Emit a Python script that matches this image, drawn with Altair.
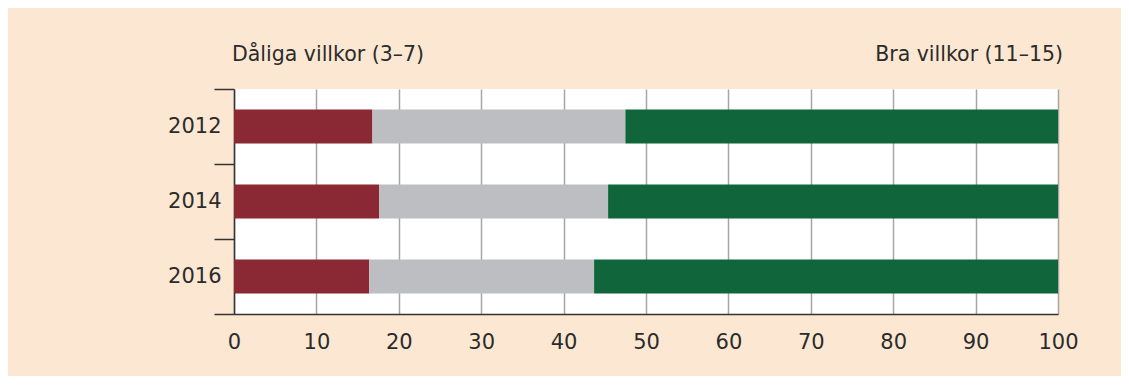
import altair as alt
import pandas as pd

years = ["2012", "2014", "2016"]
categories = ["Dåliga villkor (3–7)", "Mellan (8–10)", "Bra villkor (11–15)"]
bad = [16.8, 17.6, 16.4]
mid = [30.7, 27.8, 27.3]
good = [52.5, 54.6, 56.3]
colors = ["#8A2834", "#BDBEC1", "#10663A"]

rows = []
for i, y in enumerate(years):
    for j, (cat, vals) in enumerate(zip(categories, [bad, mid, good])):
        rows.append({"year": y, "cat": cat, "value": vals[i], "order": j})
df = pd.DataFrame(rows)

FONT = "DejaVu Sans"
W, H = 824, 225

bars = alt.Chart(df).mark_bar(size=34).encode(
    x=alt.X("value:Q", stack="zero",
            scale=alt.Scale(domain=[0, 100], nice=False, zero=True),
            axis=alt.Axis(values=list(range(0, 101, 10)), title=None, grid=True,
                          gridColor="#A6A6A6", gridWidth=1.5, ticks=False,
                          domain=True, domainColor="#333333", domainWidth=1.5,
                          labelFont=FONT, labelFontSize=21, labelColor="#2b2b2b",
                          labelFlush=False, labelBound=False, labelOverlap=False,
                          labelPadding=17)),
    y=alt.Y("year:N", sort=years,
            scale=alt.Scale(paddingInner=0, paddingOuter=0),
            axis=alt.Axis(title=None, tickBand="extent", tickSize=20, tickColor="#333333",
                          tickWidth=1.5, domainColor="#333333", domainWidth=1.5,
                          labelFont=FONT, labelFontSize=21, labelColor="#2b2b2b",
                          labelPadding=-7, grid=False)),
    color=alt.Color("cat:N", sort=categories,
                    scale=alt.Scale(domain=categories, range=colors), legend=None),
    order=alt.Order("order:Q"),
)

left_title = alt.Chart(pd.DataFrame({"t": [categories[0]]})).mark_text(
    align="left", baseline="alphabetic", font=FONT, fontSize=20.5, color="#2b2b2b"
).encode(text="t:N", x=alt.value(-2), y=alt.value(-28))

right_title = alt.Chart(pd.DataFrame({"t": [categories[2]]})).mark_text(
    align="right", baseline="alphabetic", font=FONT, fontSize=20.5, color="#2b2b2b"
).encode(text="t:N", x=alt.value(W + 5), y=alt.value(-28))

chart = alt.layer(bars, left_title, right_title).properties(
    width=W, height=H,
    background="#FCE8D2",
    padding={"left": 226, "top": 81, "right": 63, "bottom": 62},
    autosize=alt.AutoSizeParams(type="none"),
).configure_view(fill="white", stroke=None)

chart.save("out.html", embed_options={"renderer": "svg", "actions": False})
